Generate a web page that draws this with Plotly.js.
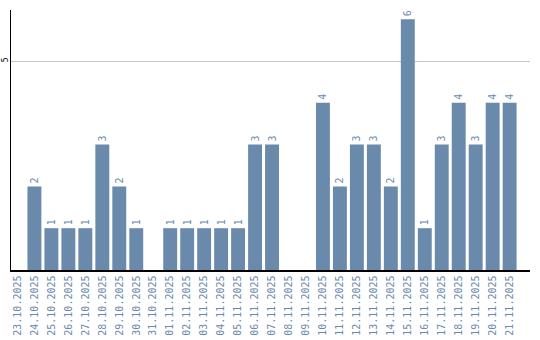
<!DOCTYPE html>
<html><head><meta charset="utf-8">
<script src="https://cdn.plot.ly/plotly-3.0.1.min.js"></script>
<style>body{margin:0;padding:0;}#c{width:540px;height:340px;}</style>
</head><body><div id="c"></div>
<script>
const dates = ["23.10.2025","24.10.2025","25.10.2025","26.10.2025","27.10.2025","28.10.2025","29.10.2025","30.10.2025","31.10.2025","01.11.2025","02.11.2025","03.11.2025","04.11.2025","05.11.2025","06.11.2025","07.11.2025","08.11.2025","09.11.2025","10.11.2025","11.11.2025","12.11.2025","13.11.2025","14.11.2025","15.11.2025","16.11.2025","17.11.2025","18.11.2025","19.11.2025","20.11.2025","21.11.2025"];
const counts = [0,2,1,1,1,3,2,1,0,1,1,1,1,1,3,3,0,0,4,2,3,3,2,6,1,3,4,3,4,4];
const yTicks = [5];

const barColor = '#6a8aac';
const labels = counts.map(v => v > 0 ? String(v) : '');

Plotly.newPlot('c', [{
  type: 'bar',
  x: dates,
  y: counts,
  text: labels,
  textposition: 'outside',
  textangle: -90,
  cliponaxis: false,
  textfont: {family: 'DejaVu Sans Mono', size: 10, color: barColor},
  marker: {color: barColor},
  hoverinfo: 'none'
}], {
  width: 540, height: 340,
  margin: {l: 10.5, r: 9.5, t: 10, b: 70, pad: 0},
  paper_bgcolor: '#fff', plot_bgcolor: '#fff',
  showlegend: false,
  bargap: 0.18,
  xaxis: {
    type: 'category',
    range: [-0.38, 30.2],
    tickangle: -90,
    tickfont: {family: 'DejaVu Sans Mono', size: 10, color: barColor},
    showline: true, linecolor: '#000', linewidth: 1.5,
    ticks: '', showgrid: false, zeroline: false
  },
  yaxis: {
    range: [0, 6.22],
    tickvals: yTicks,
    tickangle: -90,
    ticklabelstandoff: -2,
    tickfont: {family: 'DejaVu Sans Mono', size: 8, color: '#000'},
    showline: true, linecolor: '#000', linewidth: 1.5,
    gridcolor: '#c8c8c8', gridwidth: 1,
    zeroline: false, ticks: ''
  }
}, {staticPlot: true});
</script></body></html>
